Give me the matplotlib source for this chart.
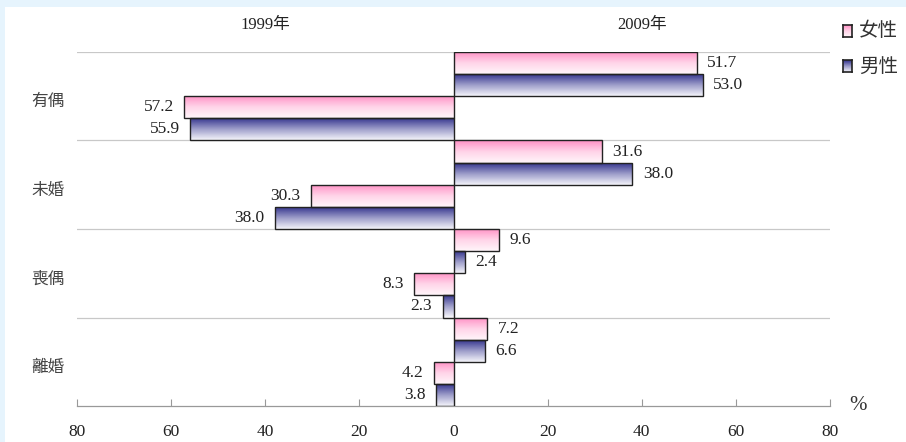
import matplotlib
matplotlib.use("Agg")
import matplotlib.pyplot as plt
import numpy as np
from matplotlib.patches import Rectangle
from matplotlib.colors import LinearSegmentedColormap

plt.rcParams['font.family'] = ['Liberation Serif', 'Noto Sans CJK TC']

categories = ["有偶", "未婚", "喪偶", "離婚"]
female_2009 = [51.7, 31.6, 9.6, 7.2]
male_2009 = [53.0, 38.0, 2.4, 6.6]
female_1999 = [57.2, 30.3, 8.3, 4.2]
male_1999 = [55.9, 38.0, 2.3, 3.8]
years = ["1999年", "2009年"]
legend_labels = ["女性", "男性"]
xticks = [-80, -60, -40, -20, 0, 20, 40, 60, 80]

pink_cmap = LinearSegmentedColormap.from_list("pk", ["#ff8fc4", "#ffd3e8", "#fff6fa"])
navy_cmap = LinearSegmentedColormap.from_list("nv", ["#2e2e8a", "#9a9ac8", "#f4f4fa"])

fig = plt.figure(figsize=(9.06, 4.42), dpi=100)
fig.patch.set_facecolor("#e6f4fd")
fig.add_artist(Rectangle((5 / 906, 0), 1, 1 - 7 / 442, transform=fig.transFigure,
                         facecolor="white", edgecolor="none", zorder=0))
ax = fig.add_axes([77 / 906, 36 / 442, 753 / 906, 354 / 442])
ax.set_facecolor("none")

h = 0.25
grad = np.linspace(0, 1, 64).reshape(-1, 1)


def draw_bars(values, offset, sign, cmap):
    for i, v in enumerate(values):
        yc = i + offset
        x = sign * v
        rect = ax.barh(yc, x, height=h, facecolor="none", edgecolor="#222222",
                       linewidth=1.0, zorder=3)[0]
        left, right = min(0, x), max(0, x)
        im = ax.imshow(grad, cmap=cmap, aspect="auto", origin="upper",
                       extent=(left, right, yc + h / 2, yc - h / 2), zorder=2)
        im.set_clip_path(rect)
        if sign > 0:
            ax.text(x + 2.2, yc, f"{v:.1f}", ha="left", va="center",
                    fontsize=12.5, color="#222222")
        else:
            ax.text(x - 2.2, yc, f"{v:.1f}", ha="right", va="center",
                    fontsize=12.5, color="#222222")


draw_bars(female_2009, 0.125, 1, pink_cmap)
draw_bars(male_2009, 0.375, 1, navy_cmap)
draw_bars(female_1999, 0.625, -1, pink_cmap)
draw_bars(male_1999, 0.875, -1, navy_cmap)

for yl in range(len(categories)):
    ax.axhline(yl, color="#c8c8c8", linewidth=0.9, zorder=1)

ax.set_xlim(-80, 80)
ax.set_ylim(len(categories), 0)

for s in ["top", "left", "right"]:
    ax.spines[s].set_visible(False)
ax.spines["bottom"].set_color("#999999")
ax.spines["bottom"].set_linewidth(0.9)

ax.set_xticks(xticks)
ax.set_xticklabels([str(abs(t)) for t in xticks], fontsize=12.5, color="#222222")
ax.tick_params(axis="x", direction="in", length=5, color="#999999", pad=13)
ax.set_yticks(np.arange(len(categories)) + 0.545)
ax.set_yticklabels(categories, fontsize=12, color="#444444")
ax.tick_params(axis="y", length=0, pad=9)

ax.text(-40, 1.076, years[0], transform=ax.get_xaxis_transform(),
        ha="center", va="center", fontsize=12, color="#222222")
ax.text(40, 1.076, years[1], transform=ax.get_xaxis_transform(),
        ha="center", va="center", fontsize=12, color="#222222")

fig.text(858 / 906, 1 - 405 / 442, "%", ha="center", va="center",
         fontsize=15, color="#333333")

# legend drawn by hand so the squares can carry the gradient
for k, (lab, cmap) in enumerate(zip(legend_labels, [pink_cmap, navy_cmap])):
    yc = 31 + 35 * k
    sq = fig.add_axes([843 / 906, 1 - (yc + 6) / 442, 9 / 906, 12 / 442])
    sq.imshow(grad, cmap=cmap, aspect="auto")
    sq.set_xticks([])
    sq.set_yticks([])
    for sp in sq.spines.values():
        sp.set_linewidth(1.2)
        sp.set_color("#222222")
    fig.text(859 / 906, 1 - yc / 442, lab, ha="left", va="center",
             fontsize=14, color="#333333", family=["Noto Sans CJK TC"])

fig.savefig("out.png", dpi=100)
